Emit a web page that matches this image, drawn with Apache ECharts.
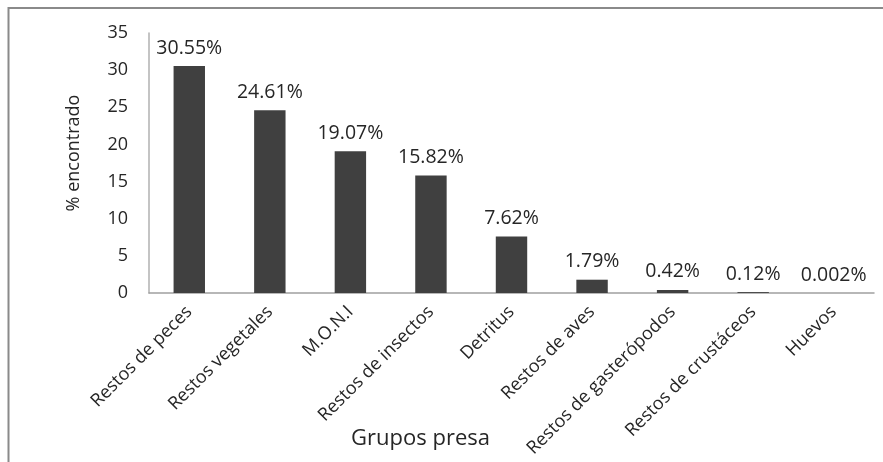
<!DOCTYPE html>
<html>
<head>
<meta charset="utf-8">
<script src="https://cdn.jsdelivr.net/npm/echarts@6/dist/echarts.min.js"></script>
<style>html,body{margin:0;padding:0;background:#fff;}#c{width:883px;height:462px;}</style>
</head>
<body>
<div id="c"></div>
<script>
const categories = ['Restos de peces','Restos vegetales','M.O.N.I','Restos de insectos','Detritus','Restos de aves','Restos de gasterópodos','Restos de crustáceos','Huevos'];
const values = [30.55, 24.61, 19.07, 15.82, 7.62, 1.79, 0.42, 0.12, 0.002];
const yTicks = [0, 5, 10, 15, 20, 25, 30, 35];
const xTitle = 'Grupos presa';
const yTitle = '% encontrado';

const font = 'Open Sans';
const chart = echarts.init(document.getElementById('c'), null, {renderer: 'canvas'});
chart.setOption({
  animation: false,
  backgroundColor: '#ffffff',
  graphic: [{
    type: 'polyline',
    shape: {points: [[8.5, 462], [8.5, 8], [883, 8]]},
    style: {stroke: '#8a8a8a', lineWidth: 2, fill: null},
    silent: true
  }],
  grid: {left: 149, right: 9, top: 33, bottom: 169, containLabel: false, outerBoundsMode: 'none'},
  xAxis: {
    type: 'category',
    data: categories,
    name: xTitle,
    nameLocation: 'middle',
    nameGap: 135,
    nameMoveOverlap: false,
    nameTextStyle: {fontFamily: font, fontSize: 22, color: '#262626', padding: [0, 182, 0, 0]},
    axisLine: {show: true, lineStyle: {color: '#a0a0a0', width: 1.5}},
    axisTick: {show: false},
    axisLabel: {rotate: 45, fontFamily: font, fontSize: 18, color: '#262626', margin: 16, interval: 0}
  },
  yAxis: {
    type: 'value',
    min: 0,
    max: yTicks[yTicks.length - 1],
    interval: yTicks[1] - yTicks[0],
    name: yTitle,
    nameLocation: 'middle',
    nameGap: 66,
    nameMoveOverlap: false,
    nameTextStyle: {fontFamily: font, fontSize: 18, color: '#262626', padding: [0, 0, 0, 20]},
    axisLine: {show: true, lineStyle: {color: '#b0b0b0', width: 1.5}},
    axisTick: {show: false},
    splitLine: {show: false},
    axisLabel: {fontFamily: font, fontSize: 18, color: '#262626', margin: 21}
  },
  series: [{
    type: 'bar',
    data: values,
    barWidth: '39%',
    itemStyle: {color: '#404040'},
    label: {
      show: true,
      position: 'top',
      distance: 8,
      fontFamily: font,
      fontSize: 19.5,
      color: '#262626',
      formatter: p => p.value + '%'
    }
  }]
});
</script>
</body>
</html>
